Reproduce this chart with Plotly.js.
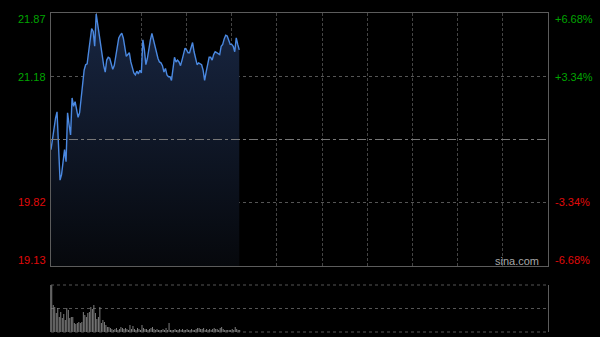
<!DOCTYPE html>
<html><head><meta charset="utf-8">
<script src="https://cdn.plot.ly/plotly-3.0.1.min.js"></script>
<style>html,body{margin:0;padding:0;background:#000;}#chart{width:600px;height:337px;}</style>
</head><body><div id="chart"></div>
<script>
// Minute index since open (HK session: 330 minutes)
const sessionMinutes = 330;
const prevClose = 20.50;
const priceTicks = [21.87, 21.18, 19.82, 19.13];
const priceLabels = ["21.87", "21.18", "19.82", "19.13"];
const pctLabels = ["+6.68%", "+3.34%", "-3.34%", "-6.68%"];
const prices = [
 20.39,20.52,20.64,20.73,20.80,20.44,20.06,20.12,20.30,20.39,
 20.26,20.79,20.66,20.55,20.95,20.86,20.91,20.82,20.74,20.79,
 20.93,21.06,21.25,21.31,21.32,21.45,21.58,21.70,21.67,21.51,
 21.86,21.74,21.64,21.55,21.42,21.30,21.23,21.36,21.39,21.38,
 21.32,21.26,21.30,21.40,21.53,21.60,21.63,21.65,21.60,21.47,
 21.40,21.42,21.44,21.34,21.29,21.22,21.20,21.24,21.21,21.25,
 21.22,21.58,21.47,21.31,21.38,21.49,21.58,21.65,21.58,21.50,
 21.45,21.38,21.34,21.33,21.30,21.23,21.27,21.20,21.18,21.18,
 21.14,21.26,21.39,21.34,21.36,21.34,21.30,21.36,21.43,21.49,
 21.47,21.44,21.44,21.49,21.55,21.45,21.36,21.31,21.33,21.32,
 21.31,21.25,21.14,21.23,21.32,21.39,21.39,21.36,21.42,21.45,
 21.44,21.43,21.42,21.51,21.53,21.59,21.63,21.62,21.56,21.53,
 21.53,21.51,21.45,21.60,21.53,21.47
];
const volumes = [
 47,27,25,19,24,15,20,14,18,12,
 24,22,14,15,15,9,8,9,10,9,
 10,20,17,15,19,20,25,23,27,19,
 13,15,25,9,12,10,7,5,5,4,
 3,2,3,4,2,3,5,4,3,4,
 3,2,7,3,6,3,2,4,3,2,
 7,4,3,3,2,3,4,5,3,2,
 3,2,2,2,3,2,4,2,9,2,
 2,2,3,2,2,3,2,3,2,2,
 3,2,2,3,2,2,3,4,4,3,
 3,4,2,3,2,3,2,3,4,3,
 3,2,4,5,3,2,2,2,2,2,
 3,2,5,3,2,2
];
const minutes = prices.map((_, i) => i);

const green = "rgb(0,165,0)", red = "rgb(225,10,10)";
const font = "Liberation Sans, Arial, sans-serif";
const annotations = [];
priceTicks.forEach((v, k) => {
  const col = v > prevClose ? green : red;
  const shift = k === 0 ? -6 : (k === 3 ? 6 : 0);
  annotations.push({xref:"paper", yref:"y", x:48/600, y:v, yshift:shift, xanchor:"right", yanchor:"middle",
    text:priceLabels[k], showarrow:false, font:{family:font, size:11, color:col}});
  annotations.push({xref:"paper", yref:"y", x:553/600, y:v, yshift:shift, xanchor:"left", yanchor:"middle",
    text:pctLabels[k], showarrow:false, font:{family:font, size:11, color:col}});
});
annotations.push({xref:"paper", yref:"paper", x:541/600, y:1-261/337, xanchor:"right", yanchor:"middle",
  text:"sina.com", showarrow:false, font:{family:font, size:11, color:"#a8a8a8"}});

const traces = [
  {x:minutes, y:prices, type:"scatter", mode:"lines", xaxis:"x", yaxis:"y",
   line:{color:"#4a88e0", width:1.4}, fill:"tozeroy",
   fillgradient:{type:"vertical", start:19.13, stop:21.87,
     colorscale:[[0,"rgb(6,8,12)"],[1,"rgb(24,38,66)"]]},
   hoverinfo:"skip"},
  {x:minutes, y:volumes, type:"bar", xaxis:"x2", yaxis:"y2", width:0.6,
   marker:{color:"#8c8c8c", line:{width:0}}, hoverinfo:"skip"}
];

const mainTop = 1-13/337, mainBot = 1-266/337;
const volTop = 1-285/337, volBot = 1-332/337;
const vmax = Math.max(...volumes);

const layout = {
  width:600, height:337, margin:{l:0,r:0,t:0,b:0},
  paper_bgcolor:"#000", plot_bgcolor:"#000", showlegend:false,
  xaxis:{domain:[51/600, 548/600], range:[0, sessionMinutes], tick0:0, dtick:30,
    showgrid:true, gridcolor:"#444", griddash:"3px,2px", gridwidth:1,
    showline:true, mirror:true, linecolor:"#5c5c5c", linewidth:1,
    showticklabels:false, ticks:"", zeroline:false, fixedrange:true},
  yaxis:{domain:[mainBot, mainTop], range:[19.13, 21.87], tickvals:[19.82, 21.18],
    showgrid:true, gridcolor:"#555", griddash:"dot", gridwidth:1,
    showline:true, mirror:true, linecolor:"#5c5c5c", linewidth:1,
    showticklabels:false, ticks:"", zeroline:false, fixedrange:true},
  xaxis2:{domain:[51/600, 548/600], range:[-0.5, sessionMinutes], showgrid:false,
    showline:false, showticklabels:false, ticks:"", zeroline:false, anchor:"y2"},
  yaxis2:{domain:[volBot, volTop], range:[0, vmax], tickvals:[vmax/2],
    showgrid:true, gridcolor:"#555", griddash:"dot", gridwidth:1,
    showline:true, mirror:true, linecolor:"#5c5c5c", linewidth:1,
    showticklabels:false, ticks:"", zeroline:false, anchor:"x2"},
  shapes:[
    {type:"line", xref:"x domain", yref:"y", x0:0, x1:1, y0:prevClose, y1:prevClose,
     line:{color:"#777", width:1, dash:"dashdot"}},
    {type:"line", xref:"x2 domain", yref:"y2 domain", x0:0, x1:1, y0:1, y1:1,
     line:{color:"#555", width:1, dash:"dot"}},
    {type:"line", xref:"x2 domain", yref:"y2 domain", x0:0, x1:1, y0:0, y1:0,
     line:{color:"#555", width:1, dash:"dot"}}
  ],
  annotations:annotations
};
Plotly.newPlot("chart", traces, layout, {staticPlot:true, displayModeBar:false});
</script></body></html>
